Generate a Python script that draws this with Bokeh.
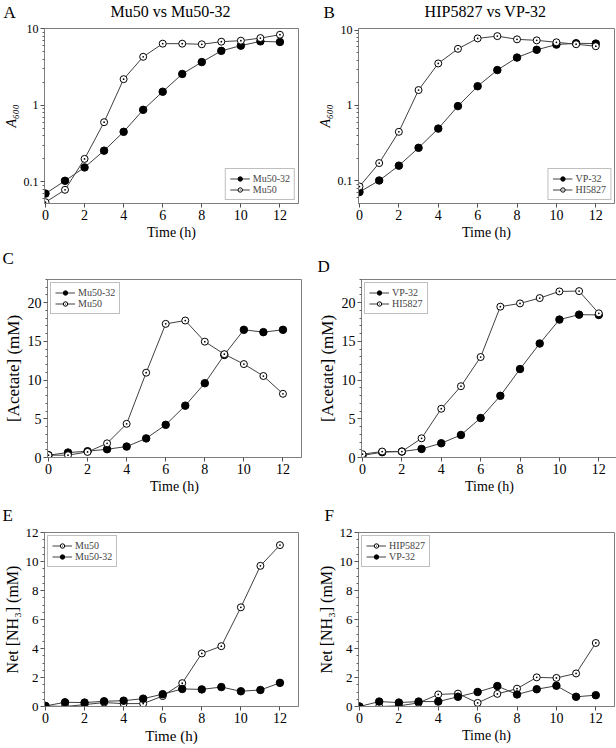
from bokeh.plotting import figure
from bokeh.layouts import column, row
from bokeh.models import (FixedTicker, CustomJSTickFormatter, Legend, LegendItem, Range1d)
from bokeh.core.properties import value
from bokeh.embed import file_html
from bokeh.resources import INLINE

# ---------------- data ----------------
hours = list(range(13))

# A: A600, Mu50 vs Mu50-32
a_mu50_32 = [0.070, 0.103, 0.154, 0.255, 0.449, 0.87, 1.50, 2.56, 3.66, 5.13, 6.0, 6.83, 6.7]
a_mu50 = [0.054, 0.0785, 0.199, 0.60, 2.19, 4.29, 6.37, 6.37, 6.25, 6.76, 6.97, 7.54, 8.33]

# B: A600, HIP5827 vs VP-32
b_vp32 = [0.071, 0.101, 0.159, 0.274, 0.493, 0.98, 1.80, 2.95, 4.32, 5.48, 6.42, 6.69, 6.62]
b_hi5827 = [0.084, 0.172, 0.447, 1.60, 3.61, 5.64, 7.76, 8.32, 7.54, 7.31, 6.89, 6.49, 6.11]

# C: acetate (mM), Mu50 vs Mu50-32
c_mu50_32 = [0.3, 0.64, 0.81, 1.07, 1.41, 2.47, 4.22, 6.7, 9.6, 13.26, 16.5, 16.2, 16.5]
c_mu50 = [0.3, 0.3, 0.72, 1.83, 4.35, 10.96, 17.27, 17.7, 14.97, 13.35, 12.07, 10.53, 8.23]

# D: acetate (mM), VP-32 vs HI5827
d_vp32 = [0.26, 0.69, 0.77, 1.11, 1.84, 2.91, 5.1, 7.97, 11.43, 14.73, 17.82, 18.46, 18.42]
d_hi5827 = [0.43, 0.77, 0.77, 2.48, 6.3, 9.21, 12.98, 19.49, 19.91, 20.6, 21.46, 21.5, 18.63]

# E: net NH3 (mM), Mu50 vs Mu50-32
e_mu50 = [0.04, 0.0, 0.13, 0.27, 0.2, 0.2, 0.72, 1.61, 3.66, 4.16, 6.84, 9.7, 11.13]
e_mu50_32 = [0.04, 0.29, 0.27, 0.36, 0.4, 0.54, 0.85, 1.21, 1.18, 1.34, 1.05, 1.14, 1.63]

# F: net NH3 (mM), HIP5827 vs VP-32
f_hip5827 = [0.0, 0.0, 0.04, 0.25, 0.83, 0.89, 0.25, 0.87, 1.23, 2.01, 1.97, 2.28, 4.38]
f_vp32 = [0.0, 0.34, 0.27, 0.34, 0.34, 0.67, 1.0, 1.41, 0.83, 1.19, 1.43, 0.67, 0.78]

panel_letters = ["A", "B", "C", "D", "E", "F"]
panel_titles = ["Mu50 vs Mu50-32", "HIP5827 vs VP-32"]

x_ticks = [0, 2, 4, 6, 8, 10, 12]
log_ticks = [0.1, 1, 10]
log_minor = [0.06, 0.07, 0.08, 0.09, 0.2, 0.3, 0.4, 0.5, 0.6, 0.7, 0.8, 0.9,
             2, 3, 4, 5, 6, 7, 8, 9]
acetate_ticks = [0, 5, 10, 15, 20]
acetate_minor = [i for i in range(0, 24)]
nh3_ticks = [0, 2, 4, 6, 8, 10, 12]
nh3_minor = [i * 0.5 for i in range(0, 25)]

SERIF = "Liberation Serif"
GRAY = "#7f7f7f"
LINE = "#404040"

COLS = [dict(left=43, frame=254, right=10), dict(left=50, frame=256, right=1)]
ROWS = [dict(top=7, frame=175, bottom=43),
        dict(top=4, frame=178, bottom=44),
        dict(top=8, frame=174, bottom=40)]
TOTAL_W = sum(c["left"] + c["frame"] + c["right"] for c in COLS)


def make_panel(col, rowi, y_type, y_rng, y_ticks, y_minor, series, legend_loc,
               ylabel, ytick_size="12px", ylabel_size="14px", xlabel_size="14px"):
    c = COLS[col]
    r = ROWS[rowi]
    p = figure(frame_width=c["frame"], frame_height=r["frame"],
               min_border_left=c["left"], min_border_right=c["right"],
               min_border_top=r["top"], min_border_bottom=r["bottom"],
               x_range=Range1d(-0.05, 12.95), y_range=Range1d(*y_rng),
               y_axis_type=y_type, output_backend="svg", toolbar_location=None,
               background_fill_color="white", border_fill_color="white")
    p.xgrid.visible = False
    p.ygrid.visible = False
    p.outline_line_color = GRAY
    p.outline_line_width = 1

    for ax in (p.xaxis[0], p.yaxis[0]):
        ax.axis_line_color = GRAY
        ax.major_tick_line_color = "#505050"
        ax.minor_tick_line_color = "#606060"
        ax.major_tick_out = 4
        ax.major_tick_in = 0
        ax.minor_tick_out = 2
        ax.minor_tick_in = 0
        ax.major_label_text_font = SERIF
        ax.axis_label_text_font = SERIF
        ax.axis_label_text_font_style = "normal"
        ax.major_label_text_color = "black"
        ax.axis_label_text_color = "black"
        ax.major_label_standoff = 2
        ax.axis_label_standoff = 2

    p.xaxis.ticker = FixedTicker(ticks=x_ticks)
    p.xaxis.major_label_text_font_size = "14px"
    p.xaxis.axis_label = "Time (h)"
    p.xaxis.axis_label_text_font_size = xlabel_size

    p.yaxis.ticker = FixedTicker(ticks=y_ticks, minor_ticks=y_minor)
    p.yaxis.formatter = CustomJSTickFormatter(code="return tick.toString()")
    p.yaxis.major_label_text_font_size = ytick_size
    p.yaxis.axis_label = ylabel
    p.yaxis.axis_label_text_font_size = ylabel_size
    if ylabel.startswith("A"):
        p.yaxis.axis_label_text_font_style = "italic"

    items = []
    for label, vals, filled in series:
        ln = p.line(hours, vals, line_color=LINE, line_width=1)
        if filled:
            sc = p.scatter(hours, vals, marker="circle", size=7.5,
                           fill_color="black", line_color="black")
        else:
            sc = p.scatter(hours, vals, marker="circle_dot", size=7,
                           fill_color="white", line_color="black", line_width=1)
        items.append(LegendItem(label=label, renderers=[ln, sc]))

    leg = Legend(items=items, location=legend_loc)
    leg.margin = 3
    leg.padding = 4
    leg.spacing = 0
    leg.label_text_font = SERIF
    leg.label_text_font_size = "10px"
    leg.label_height = 11
    leg.glyph_height = 11
    leg.glyph_width = 20
    leg.label_standoff = 3
    leg.border_line_color = GRAY
    leg.border_line_width = 1
    leg.background_fill_color = "white"
    leg.background_fill_alpha = 1
    p.add_layout(leg)
    return p


def header(height, letters, letter_pos, titles=(), title_pos=()):
    """A strip holding the panel letters (and titles); y counts pixels from the top."""
    h = figure(width=TOTAL_W, height=height, x_range=Range1d(0, TOTAL_W),
               y_range=Range1d(height, 0), x_axis_location=None, y_axis_location=None,
               min_border=0, output_backend="svg", toolbar_location=None,
               outline_line_color=None, background_fill_color="white",
               border_fill_color="white")
    h.xgrid.visible = False
    h.ygrid.visible = False
    h.text(x=[pt[0] for pt in letter_pos], y=[pt[1] for pt in letter_pos], text=list(letters),
           text_font=value(SERIF), text_font_size=value("17px"), text_color="black",
           text_baseline="alphabetic", text_align="left")
    if titles:
        h.text(x=[pt[0] for pt in title_pos], y=[pt[1] for pt in title_pos], text=list(titles),
               text_font=value(SERIF), text_font_size=value("16px"), text_color="black",
               text_baseline="alphabetic", text_align="center")
    return h


col2_x = COLS[0]["left"] + COLS[0]["frame"] + COLS[0]["right"]
centre1 = COLS[0]["left"] + COLS[0]["frame"] / 2
centre2 = col2_x + COLS[1]["left"] + COLS[1]["frame"] / 2

h1 = header(21, panel_letters[0:2], [(3, 11.5), (col2_x + 16, 11.5)],
            panel_titles, [(centre1, 11), (centre2, 11)])
pa = make_panel(0, 0, "log", (0.052, 10.05), log_ticks, log_minor,
                [("Mu50-32", a_mu50_32, True), ("Mu50", a_mu50, False)],
                "bottom_right", "A₆₀₀", ytick_size="12px", ylabel_size="14px")
pb = make_panel(1, 0, "log", (0.05, 10.5), log_ticks, log_minor,
                [("VP-32", b_vp32, True), ("HI5827", b_hi5827, False)],
                "bottom_right", "A₆₀₀", ytick_size="12px", ylabel_size="14px")

h2 = header(29, panel_letters[2:4], [(2, 12), (col2_x + 10, 20)])
pc = make_panel(0, 1, "linear", (0, 23), acetate_ticks, acetate_minor,
                [("Mu50-32", c_mu50_32, True), ("Mu50", c_mu50, False)],
                "top_left", "[Acetate] (mM)", ytick_size="14px", ylabel_size="17px")
pd_ = make_panel(1, 1, "linear", (0, 23), acetate_ticks, acetate_minor,
                 [("VP-32", d_vp32, True), ("HI5827", d_hi5827, False)],
                 "top_left", "[Acetate] (mM)", ytick_size="14px", ylabel_size="17px")

h3 = header(23, panel_letters[4:6], [(2, 14), (col2_x + 17, 14)])
pe = make_panel(0, 2, "linear", (0, 12), nh3_ticks, nh3_minor,
                [("Mu50", e_mu50, False), ("Mu50-32", e_mu50_32, True)],
                "top_left", "Net [NH₃] (mM)", ytick_size="13px", ylabel_size="16px",
                xlabel_size="15px")
pf = make_panel(1, 2, "linear", (0, 12), nh3_ticks, nh3_minor,
                [("HIP5827", f_hip5827, False), ("VP-32", f_vp32, True)],
                "top_left", "Net [NH₃] (mM)", ytick_size="13px", ylabel_size="16px")

layout = column(h1, row(pa, pb), h2, row(pc, pd_), h3, row(pe, pf))

open("out.html", "w").write(file_html(layout, INLINE))
